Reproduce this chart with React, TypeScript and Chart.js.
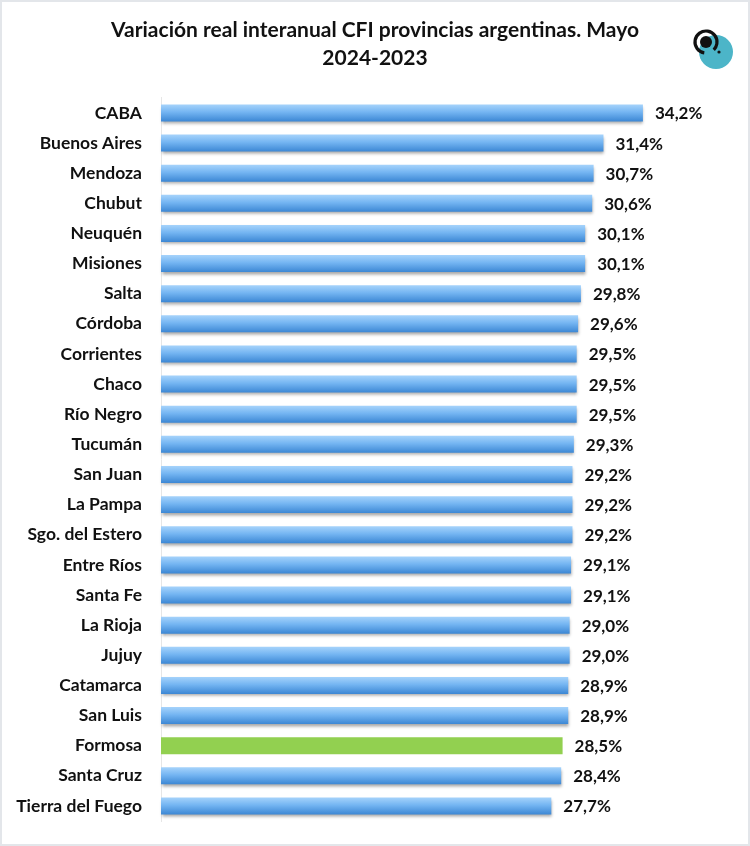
import React, { useEffect, useRef } from "react";
import { Chart, registerables } from "chart.js";

Chart.register(...registerables);

const provinces = [
  "CABA", "Buenos Aires", "Mendoza", "Chubut", "Neuquén", "Misiones", "Salta",
  "Córdoba", "Corrientes", "Chaco", "Río Negro", "Tucumán", "San Juan", "La Pampa",
  "Sgo. del Estero", "Entre Ríos", "Santa Fe", "La Rioja", "Jujuy", "Catamarca",
  "San Luis", "Formosa", "Santa Cruz", "Tierra del Fuego",
];
const variation = [
  34.2, 31.4, 30.7, 30.6, 30.1, 30.1, 29.8, 29.6, 29.5, 29.5, 29.5, 29.3, 29.2, 29.2,
  29.2, 29.1, 29.1, 29.0, 29.0, 28.9, 28.9, 28.5, 28.4, 27.7,
];
const highlighted = "Formosa";
const titleLines = ["Variación real interanual CFI provincias argentinas. Mayo", "2024-2023"];
const axisMax = 41.8;

const FONT = "Lato, 'Open Sans', sans-serif";

export default function App() {
  const ref = useRef<HTMLCanvasElement>(null);
  useEffect(() => {
    if (!ref.current) return;
    const barHalf = 8.5;
    const chart = new Chart(ref.current, {
      type: "bar",
      data: {
        labels: provinces,
        datasets: [
          {
            data: variation,
            backgroundColor: (c: any) => {
              const label = provinces[c.dataIndex];
              if (label === highlighted) return "#92d050";
              const ys = c.chart.scales && c.chart.scales.y;
              if (!ys) return "#6aaef0";
              const cy = ys.getPixelForValue(c.dataIndex);
              if (!isFinite(cy)) return "#6aaef0";
              const g = c.chart.ctx.createLinearGradient(0, cy - barHalf, 0, cy + barHalf);
              g.addColorStop(0, "#a6d3fb");
              g.addColorStop(0.45, "#74b5f2");
              g.addColorStop(1, "#3c87d4");
              return g;
            },
            borderWidth: 0,
            categoryPercentage: 0.6,
            barPercentage: 0.94,
          },
        ],
      },
      options: {
        indexAxis: "y",
        animation: false,
        responsive: false,
        maintainAspectRatio: false,
        layout: { padding: { top: 4, right: 0, bottom: 25, left: 0 } },
        plugins: {
          legend: { display: false },
          tooltip: { enabled: false },
          title: {
            display: true,
            text: titleLines,
            color: "#111",
            font: { family: FONT, size: 21, weight: "bold", lineHeight: 1.33 },
            padding: { top: 12, bottom: 26 },
          },
        },
        scales: {
          x: { display: false, min: 0, max: axisMax },
          y: {
            afterFit: (s: any) => {
              s.width = 161;
              s.paddingTop = 0;
              s.paddingBottom = 0;
            },
            grid: { display: false, drawTicks: false },
            border: { display: true, color: "#e6e6e6", width: 1 },
            ticks: {
              color: "#111",
              padding: 19,
              font: { family: FONT, size: 17.5, weight: "bold" },
            },
          },
        },
      },
      plugins: [
        {
          id: "shadowBars",
          beforeDatasetDraw(chart: any, args: any) {
            const ctx = chart.ctx;
            const meta = args.meta;
            meta.data.forEach((el: any, i: number) => {
              ctx.save();
              if (provinces[i] !== highlighted) {
                ctx.shadowColor = "rgba(0,0,0,0.35)";
                ctx.shadowBlur = 3;
                ctx.shadowOffsetY = 2.5;
                ctx.shadowOffsetX = 0.5;
              }
              el.draw(ctx, chart.chartArea);
              ctx.restore();
            });
            return false;
          },
        },
        {
          id: "valueLabels",
          afterDatasetsDraw(chart: any) {
            const ctx = chart.ctx;
            const meta = chart.getDatasetMeta(0);
            ctx.save();
            ctx.font = `bold 17px ${FONT}`;
            ctx.fillStyle = "#111";
            ctx.textAlign = "left";
            ctx.textBaseline = "middle";
            meta.data.forEach((el: any, i: number) => {
              const txt = variation[i].toFixed(1).replace(".", ",") + "%";
              ctx.fillText(txt, el.x + 12, el.y + 1);
            });
            ctx.restore();
          },
        },
        {
          id: "logoAndFrame",
          afterDraw(chart: any) {
            const ctx = chart.ctx;
            ctx.save();
            ctx.strokeStyle = "#e3e6ea";
            ctx.lineWidth = 2;
            ctx.strokeRect(1, 1, 748, 844);
            ctx.fillStyle = "#4cb5c8";
            ctx.beginPath();
            ctx.arc(716, 52, 17, 0, Math.PI * 2);
            ctx.fill();
            ctx.strokeStyle = "#111";
            ctx.lineWidth = 3.2;
            ctx.beginPath();
            ctx.arc(706, 42, 11, Math.PI * 0.55, Math.PI * 2.25);
            ctx.stroke();
            ctx.fillStyle = "#111";
            ctx.beginPath();
            ctx.arc(706, 42, 6, 0, Math.PI * 2);
            ctx.fill();
            ctx.beginPath();
            ctx.arc(719, 52, 1.6, 0, Math.PI * 2);
            ctx.fill();
            ctx.restore();
          },
        },
      ],
    } as any);
    return () => chart.destroy();
  }, []);
  return (
    <div style={{ position: "absolute", left: 0, top: 0, width: 750, height: 846, background: "#fff" }}>
      <canvas ref={ref} width={750} height={846} style={{ display: "block" }} />
    </div>
  );
}
